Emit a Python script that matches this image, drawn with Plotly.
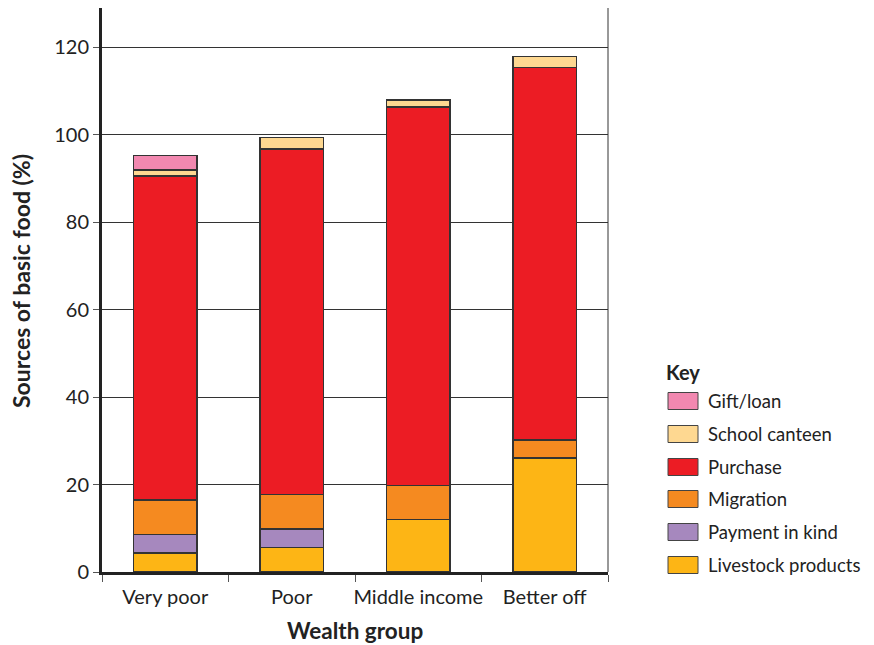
import plotly.graph_objects as go

categories = ["Very poor", "Poor", "Middle income", "Better off"]
livestock = [4.4, 5.6, 12.0, 26.1]
payment = [4.2, 4.2, 0, 0]
migration = [7.9, 7.9, 7.8, 4.1]
purchase = [74.1, 79.0, 86.5, 85.2]
canteen = [1.4, 2.7, 1.6, 2.5]
gift = [3.3, 0, 0, 0]

series = [
    ("Livestock products", livestock, "#FDB515"),
    ("Payment in kind", payment, "#A688BE"),
    ("Migration", migration, "#F58A20"),
    ("Purchase", purchase, "#EC1C24"),
    ("School canteen", canteen, "#FED891"),
    ("Gift/loan", gift, "#F288B0"),
]

FONT = "Lato"
TXT = "#222222"
fig = go.Figure()
for name, vals, col in series:
    fig.add_trace(go.Bar(
        x=categories, y=vals, name=name,
        marker=dict(color=col, line=dict(color="#333333", width=1.6)),
        width=0.5, showlegend=False,
    ))

# page offset of 8px (body margin); plot area in page pixels: x 102..608, y 8..572
def px2paper_x(px):
    return (px - 102) / 506.0

def px2paper_y(py):
    return (572 - py) / 564.0

shapes = []
annotations = []
annotations.append(dict(text="<b>Key</b>", xref="paper", yref="paper",
                        x=px2paper_x(664), y=px2paper_y(372), xanchor="left", yanchor="middle",
                        showarrow=False, font=dict(size=20, family=FONT, color=TXT)))
item_y = [401, 434, 467, 499, 532, 565]
for (name, vals, col), yy in zip(reversed(series), item_y):
    shapes.append(dict(type="rect", xref="paper", yref="paper",
                       x0=px2paper_x(668), x1=px2paper_x(698),
                       y0=px2paper_y(yy + 8.5), y1=px2paper_y(yy - 8.5),
                       fillcolor=col, line=dict(color="#444444", width=1)))
    annotations.append(dict(text=name, xref="paper", yref="paper",
                            x=px2paper_x(706), y=px2paper_y(yy), xanchor="left", yanchor="middle",
                            showarrow=False, font=dict(size=18.5, family=FONT, color=TXT)))
# axis titles
annotations.append(dict(text="<b>Wealth group</b>", xref="paper", yref="paper",
                        x=px2paper_x(355), y=px2paper_y(630), xanchor="center", yanchor="middle",
                        showarrow=False, font=dict(size=22.5, family=FONT, color=TXT)))
annotations.append(dict(text="<b>Sources of basic food (%)</b>", xref="paper", yref="paper",
                        x=px2paper_x(21), y=px2paper_y(281), xanchor="center", yanchor="middle",
                        textangle=-90,
                        showarrow=False, font=dict(size=23, family=FONT, color=TXT)))
# right border
shapes.append(dict(type="line", xref="paper", yref="paper", x0=1, x1=1, y0=0, y1=1,
                   line=dict(color="#333333", width=1)))

fig.update_layout(
    barmode="stack",
    width=866, height=637,
    margin=dict(l=94, r=266, t=0, b=73, autoexpand=False),
    plot_bgcolor="white", paper_bgcolor="white",
    font=dict(family=FONT, size=20, color=TXT),
    showlegend=False,
    shapes=shapes,
    annotations=annotations,
)
fig.update_xaxes(
    showline=True, linecolor="#222222", linewidth=3,
    ticks="outside", tickson="boundaries", ticklen=7, tickcolor="#555555",
    tickfont=dict(size=20), tickangle=0, automargin=False, ticklabelstandoff=5,
    range=[-0.5, 3.5],
)
fig.update_yaxes(
    range=[0, 129], tickvals=[0, 20, 40, 60, 80, 100, 120],
    showgrid=True, gridcolor="#333333", gridwidth=1,
    showline=True, linecolor="#222222", linewidth=3,
    ticks="outside", ticklen=6, tickcolor="#555555",
    tickfont=dict(size=20), automargin=False,
    zeroline=False,
)

fig.write_html("out.html")
